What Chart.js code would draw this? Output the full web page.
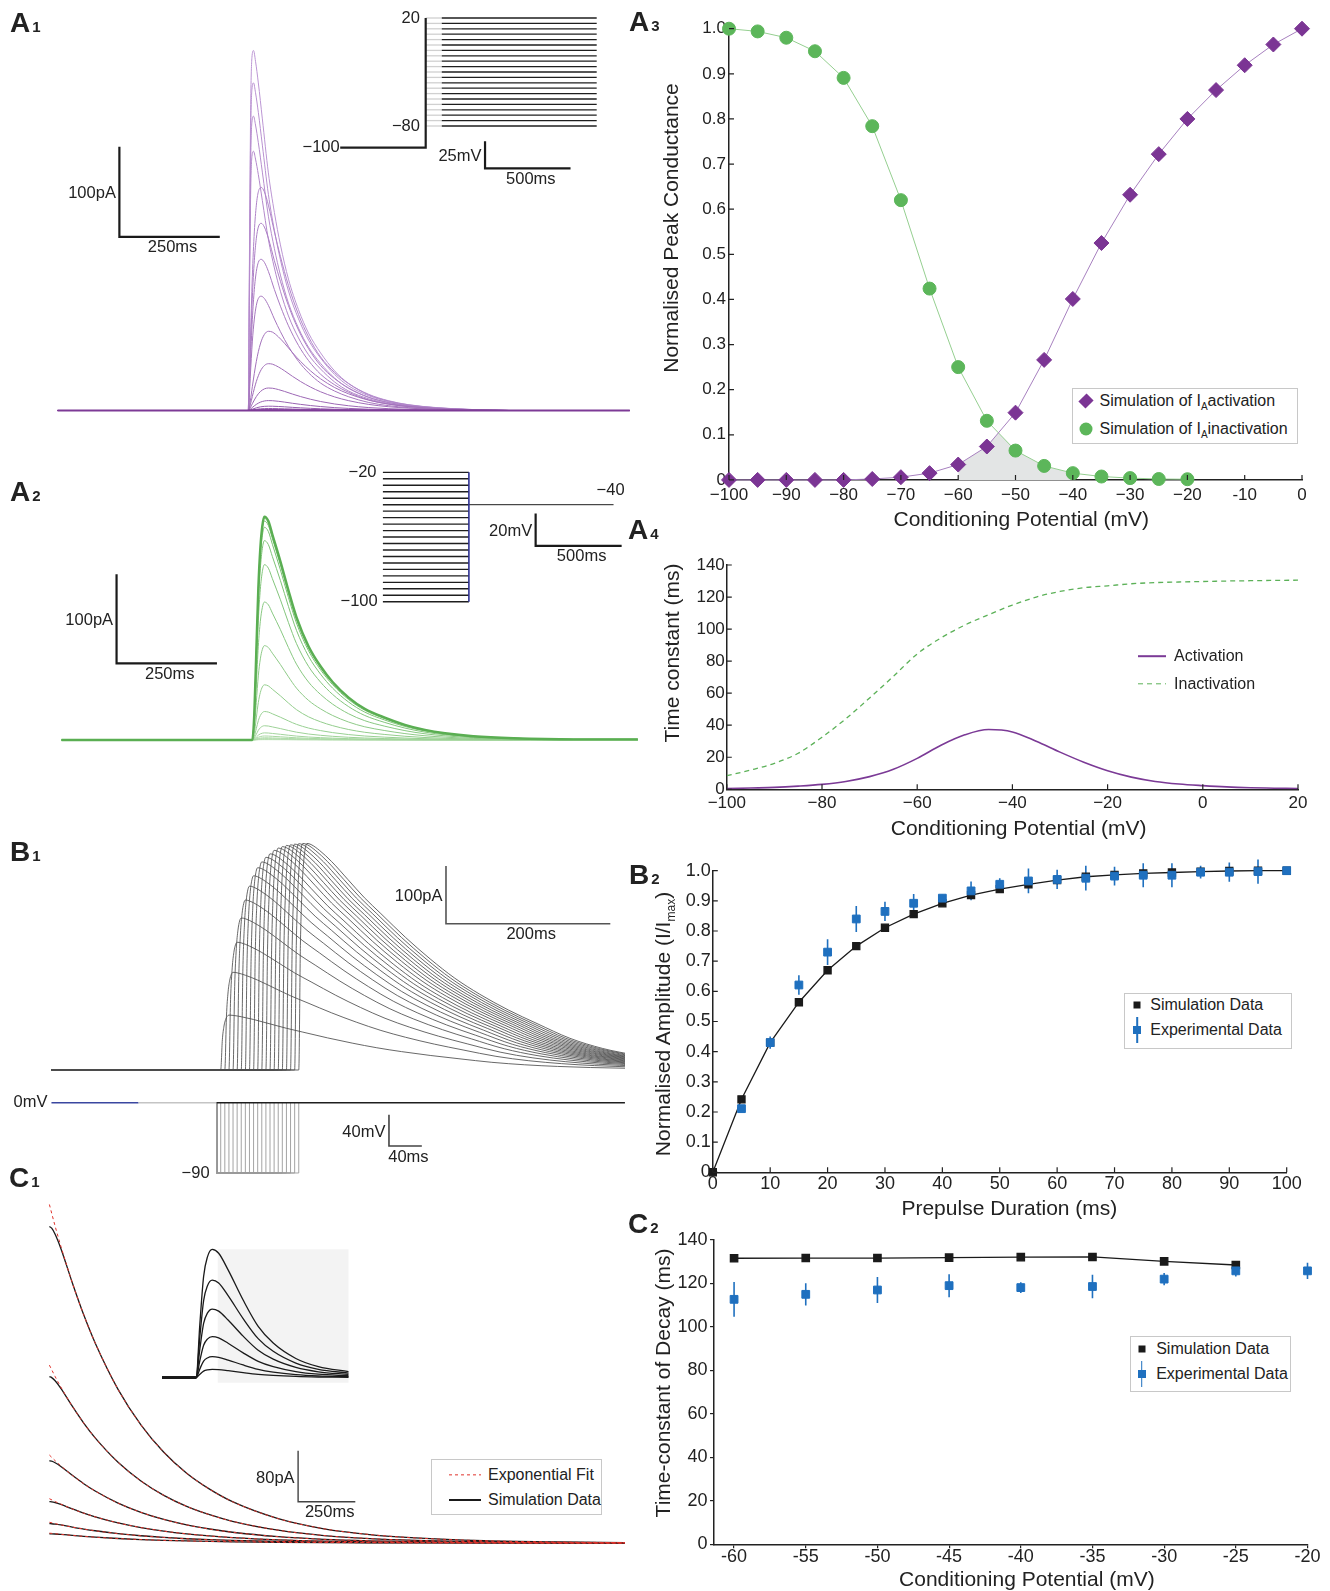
<!DOCTYPE html>
<html lang="en">
<head>
<meta charset="UTF-8">
<title>A-type K+ current: simulation vs experiment</title>
<script src="https://cdn.jsdelivr.net/npm/chart.js"></script>
<style>
  html, body { margin: 0; padding: 0; background: #fff; }
  #fig { position: relative; width: 1330px; height: 1591px; overflow: hidden;
         font-family: "Liberation Sans", Arial, sans-serif; color: #222; }
  #fig canvas { position: absolute; }
  .txt { position: absolute; white-space: nowrap; line-height: 1; }
  .legend { position: absolute; box-sizing: border-box; }
  .legend.boxed { border: 1.5px solid #c8c8c8; background: #fff; }
  .legend .item { position: absolute; white-space: nowrap; font-size: 16px; line-height: 1; transform: translateY(-50%); }
  .legend .mk { position: absolute; transform: translate(-50%, -50%); }
</style>
</head>
<body>
<div id="fig"></div>
<script>
// ---------- A1: activation protocol (mV) and peak currents (pA) ----------
const a1Steps = [-80, -75, -70, -65, -60, -55, -50, -45, -40, -35, -30, -25, -20, -15, -10, -5, 0, 5, 10, 15, 20];
const a1Peaks = [0, 0.05, 0.1, 0.2, 0.3, 0.5, 1, 2.2, 4.8, 11, 25, 52, 88, 127, 168, 208, 248, 288, 327, 364, 400];
const a1Hold = -100;
// normalised current shapes (ms after step onset)
const a1FastT = [0, 3, 6, 9, 13, 18, 25, 35, 50, 65, 80, 100, 125, 150, 180, 215, 250, 300, 350, 400, 470, 550, 650];
const a1FastV = [0, 0.45, 0.85, 0.98, 1, 0.97, 0.91, 0.81, 0.66, 0.55, 0.46, 0.365, 0.28, 0.215, 0.16, 0.11, 0.075, 0.045, 0.027, 0.016, 0.008, 0.003, 0];
const a1MidT = [0, 5, 10, 15, 20, 25, 32, 40, 50, 65, 80, 100, 125, 150, 180, 215, 250, 300, 350, 400, 470, 550, 650];
const a1MidV = [0, 0.3, 0.6, 0.8, 0.92, 0.98, 1, 0.98, 0.92, 0.8, 0.69, 0.56, 0.43, 0.33, 0.24, 0.17, 0.12, 0.07, 0.042, 0.025, 0.012, 0.005, 0];
const a1SlowT = [0, 5, 10, 20, 30, 40, 50, 60, 75, 90, 110, 130, 155, 180, 215, 250, 300, 350, 400, 470, 550, 650];
const a1SlowV = [0, 0.12, 0.3, 0.62, 0.84, 0.96, 1, 0.99, 0.93, 0.85, 0.73, 0.62, 0.5, 0.4, 0.29, 0.21, 0.13, 0.08, 0.05, 0.025, 0.011, 0];

// ---------- A2: inactivation protocol and currents ----------
const a2Levels = [-100, -96, -92, -88, -84, -80, -76, -72, -68, -64, -60, -56, -52, -48, -44, -40, -36, -32, -28, -24, -20];
const a2Test = -40;
const a2Peaks = [251, 249, 246, 239, 224, 197, 155, 106, 62, 32, 16, 8, 4.5, 2.5, 1.5, 0.8, 0.4];
const a2ShapeT = [0, 5, 10, 15, 20, 25, 30, 40, 50, 70, 90, 110, 140, 170, 200, 240, 280, 330, 380, 430, 480, 550, 650, 800];
const a2ShapeV = [0, 0.12, 0.4, 0.68, 0.86, 0.96, 1, 0.98, 0.92, 0.8, 0.67, 0.55, 0.42, 0.33, 0.26, 0.19, 0.14, 0.1, 0.068, 0.045, 0.03, 0.017, 0.008, 0.003];

// ---------- A3: normalised peak conductance ----------
const a3Volt = [-100, -95, -90, -85, -80, -75, -70, -65, -60, -55, -50, -45, -40, -35, -30, -25, -20, -15, -10, -5, 0];
const a3Act = [0, 0, 0, 0, 0, 0.002, 0.006, 0.015, 0.034, 0.074, 0.149, 0.266, 0.401, 0.525, 0.632, 0.722, 0.8, 0.864, 0.919, 0.965, 1];
const a3Inact = [1, 0.994, 0.98, 0.95, 0.891, 0.784, 0.62, 0.424, 0.25, 0.131, 0.065, 0.031, 0.015, 0.0075, 0.004, 0.002, 0.0015];

// ---------- A4: time constants (ms) ----------
const a4Volt = [-100, -95, -90, -85, -80, -75, -70, -65, -60, -55, -50, -45, -40, -35, -30, -25, -20, -15, -10, -5, 0, 5, 10, 15, 20];
const a4TauAct = [0.4, 0.8, 1.2, 2, 3.1, 4.9, 7.9, 12.5, 19.3, 27.5, 34, 37.3, 35.8, 30, 23.2, 16.9, 11.6, 7.6, 4.9, 3.3, 2.3, 1.5, 1, 0.7, 0.4];
const a4TauInact = [8.5, 12, 16.2, 22.5, 32.5, 44, 57, 70.5, 84.5, 94.5, 102.5, 109, 115, 120, 123.5, 125.8, 127, 128.3, 129, 129.4, 129.7, 130, 130.2, 130.4, 130.5];

// ---------- B1: recovery from inactivation ----------
const b1Durations = [5, 10, 15, 20, 25, 30, 35, 40, 45, 50, 55, 60, 65, 70, 75, 80, 85, 90, 95, 100];
const b1Peaks = [95, 169, 221, 263, 294, 318, 336, 350, 360, 368, 374, 380, 384, 386.5, 388.5, 389.6, 390.8, 391.6, 392, 392];
const b1Prepulse = -90;
const b1ShapeT = [0, 2, 4, 6, 8, 10, 15, 25, 40, 60, 80, 100, 130, 160, 190, 220, 255, 290, 330, 370, 410, 450, 500, 550, 600];
const b1ShapeV = [0, 0.55, 0.8, 0.92, 0.98, 1, 0.995, 0.97, 0.92, 0.84, 0.76, 0.69, 0.585, 0.49, 0.405, 0.335, 0.265, 0.205, 0.14, 0.095, 0.065, 0.045, 0.03, 0.02, 0.013];

// ---------- B2: normalised amplitude vs prepulse duration ----------
const b2Dur = [0, 5, 10, 15, 20, 25, 30, 35, 40, 45, 50, 55, 60, 65, 70, 75, 80, 85, 90, 95, 100];
const b2Sim = [0, 0.242, 0.43, 0.564, 0.67, 0.75, 0.811, 0.856, 0.892, 0.919, 0.939, 0.955, 0.969, 0.98, 0.986, 0.991, 0.994, 0.997, 0.999, 1, 1];
const b2ExpDur = [5, 10, 15, 20, 25, 30, 35, 40, 45, 50, 55, 60, 65, 70, 75, 80, 85, 90, 95, 100];
const b2Exp = [0.211, 0.43, 0.621, 0.73, 0.84, 0.865, 0.892, 0.909, 0.933, 0.955, 0.966, 0.971, 0.975, 0.982, 0.985, 0.985, 0.995, 0.995, 0.997, 1];
const b2ExpErr = [0.008, 0.02, 0.032, 0.043, 0.043, 0.032, 0.031, 0.011, 0.031, 0.02, 0.041, 0.032, 0.041, 0.031, 0.04, 0.04, 0.021, 0.032, 0.04, 0];

// ---------- C1: decay phases with exponential fits ----------
const c1FitAmp = [531, 279, 138, 69.5, 32.5, 15.5];
const c1FitT = [0, 25, 50, 100, 150, 200, 300, 400, 500, 600, 700, 800, 1000, 1200, 1400, 1600, 1900, 2200, 2515];
const c1FitV = [1, 0.936, 0.877, 0.769, 0.674, 0.591, 0.454, 0.349, 0.268, 0.206, 0.159, 0.122, 0.072, 0.042, 0.025, 0.015, 0.0067, 0.003, 0.001];
const c1SimT = [0, 10, 25, 50, 100, 150, 200, 300, 400, 500, 600, 700, 800, 1000, 1200, 1400, 1600, 1900, 2200, 2515];
const c1SimV = [0.935, 0.93, 0.912, 0.87, 0.769, 0.674, 0.591, 0.454, 0.349, 0.268, 0.206, 0.159, 0.122, 0.072, 0.042, 0.025, 0.015, 0.0067, 0.003, 0.001];
const c1InsetPeaks = [385, 293, 206, 123, 63, 25];
const c1InsetT = [0, 9.4, 18.8, 28.2, 40.4, 56.4, 80, 117.6, 155.2, 192.8, 249.3, 305.7, 381];
const c1InsetV = [0, 0.42, 0.79, 0.94, 1, 0.97, 0.84, 0.605, 0.4, 0.27, 0.15, 0.086, 0.047];
const c1FitWindow = [54, 381];

// ---------- C2: decay time constant ----------
const c2Volt = [-60, -55, -50, -45, -40, -35, -30, -25];
const c2Sim = [131.6, 131.7, 131.7, 131.9, 132.1, 132.2, 130.2, 128.5];
const c2ExpVolt = [-60, -55, -50, -45, -40, -35, -30, -25, -20];
const c2Exp = [112.7, 115, 117, 119, 118.1, 118.6, 122, 125.8, 125.8];
const c2ExpErr = [8, 5.1, 6, 5.3, 2.5, 5.4, 2.8, 2.6, 3.7];

// ================= helpers =================
Chart.defaults.font.family = '"Liberation Sans", Arial, sans-serif';
Chart.defaults.color = '#222';

const fig = document.getElementById('fig');
const BLUE = '#1f70bf';
const pts = (xs, ys) => xs.map((x, i) => ({ x, y: ys[i] }));

function mix(c1, c2, f) {
  return 'rgb(' + c1.map((c, i) => Math.round(c + (c2[i] - c) * f)).join(',') + ')';
}

// current trace: flat baseline from `from`, then shape scaled by amp starting at onset
function trace(ts, vs, amp, onset, from, to) {
  const out = from === null ? [] : [{ x: from, y: 0 }];
  for (let i = 0; i < ts.length; i++) {
    out.push({ x: onset + ts[i], y: amp * vs[i] });
    if (onset + ts[i] > to) break; // one point past the end of the record, clipped by the chart
  }
  const last = out[out.length - 1];
  if (last.x < to) out.push({ x: to, y: last.y });
  return out;
}

function makeCanvas(id, L, T, W, H) {
  const c = document.createElement('canvas');
  c.id = id; c.width = W; c.height = H;
  c.style.left = L + 'px'; c.style.top = T + 'px';
  c.style.width = W + 'px'; c.style.height = H + 'px';
  fig.appendChild(c);
  return c;
}

// scale bars, labels and shaded boxes drawn through the chart's scales
function decorations(cfg) {
  return {
    id: 'decorations',
    beforeDatasetsDraw(chart) {
      const { ctx, scales: { x, y } } = chart;
      (cfg.boxes || []).forEach(b => {
        const x0 = x.getPixelForValue(b.x0), x1 = x.getPixelForValue(b.x1);
        const y0 = y.getPixelForValue(b.y0), y1 = y.getPixelForValue(b.y1);
        ctx.save(); ctx.fillStyle = b.color; ctx.fillRect(x0, y1, x1 - x0, y0 - y1); ctx.restore();
      });
    },
    afterDatasetsDraw(chart) {
      const { ctx, scales: { x, y } } = chart;
      ctx.save();
      ctx.font = '16.5px "Liberation Sans", Arial, sans-serif';
      ctx.fillStyle = '#222';
      (cfg.bars || []).forEach(b => {
        const px = x.getPixelForValue(b.x), py = y.getPixelForValue(b.y);
        const top = y.getPixelForValue(b.y + b.dy), right = x.getPixelForValue(b.x + b.dx);
        ctx.strokeStyle = b.color || '#1a1a1a';
        ctx.lineWidth = b.width || 2;
        ctx.beginPath(); ctx.moveTo(px, top); ctx.lineTo(px, py); ctx.lineTo(right, py); ctx.stroke();
        ctx.textBaseline = 'middle';
        ctx.textAlign = 'right';
        ctx.fillText(b.yLabel, px - 3.5, (py + top) / 2 + 2);
        ctx.textAlign = 'center';
        ctx.fillText(b.xLabel, (px + right) / 2 + 3, py + 11);
      });
      (cfg.texts || []).forEach(t => {
        ctx.textAlign = t.align || 'right';
        ctx.textBaseline = 'middle';
        ctx.fillText(t.text, x.getPixelForValue(t.x) + (t.dx || 0), y.getPixelForValue(t.y) + (t.dy || 0));
      });
      ctx.restore();
    }
  };
}

function tracePanel(id, rect, origin, ppu, datasets, deco) {
  const [L, T, W, H] = rect;
  datasets.forEach(d => { if (d.clip === undefined) d.clip = 0; });
  return new Chart(makeCanvas(id, L, T, W, H), {
    type: 'line',
    data: { datasets },
    options: {
      responsive: false, animation: false, events: [],
      layout: { padding: 0 },
      elements: { point: { radius: 0 } },
      plugins: { legend: { display: false }, tooltip: { enabled: false } },
      scales: {
        x: { type: 'linear', display: false, min: (L - origin[0]) / ppu[0], max: (L + W - origin[0]) / ppu[0] },
        y: { type: 'linear', display: false, min: (origin[1] - T - H) / ppu[1], max: (origin[1] - T) / ppu[1] }
      }
    },
    plugins: [decorations(deco || {})]
  });
}

function innerTicks(len) {
  return {
    id: 'innerTicks',
    afterDraw(chart) {
      const { ctx, chartArea: a, scales: { x, y } } = chart;
      ctx.save();
      ctx.strokeStyle = '#222'; ctx.lineWidth = 1.2;
      ctx.beginPath();
      x.ticks.forEach(t => { const p = x.getPixelForValue(t.value); ctx.moveTo(p, a.bottom); ctx.lineTo(p, a.bottom - len); });
      y.ticks.forEach(t => { const p = y.getPixelForValue(t.value); ctx.moveTo(a.left, p); ctx.lineTo(a.left + len, p); });
      ctx.stroke();
      ctx.restore();
    }
  };
}

function errorBars(xs, ys, errs, color) {
  return {
    id: 'errorBars',
    beforeDatasetsDraw(chart) {
      const { ctx, scales: { x, y } } = chart;
      ctx.save();
      ctx.strokeStyle = color; ctx.lineWidth = 1.6;
      ctx.beginPath();
      xs.forEach((v, i) => {
        const p = x.getPixelForValue(v);
        ctx.moveTo(p, y.getPixelForValue(ys[i] + errs[i]));
        ctx.lineTo(p, y.getPixelForValue(ys[i] - errs[i]));
      });
      ctx.stroke();
      ctx.restore();
    }
  };
}

// chart with visible axes; area = [left, top, right, bottom] of the plot area in page px
function axisPanel(id, area, fit, scales, datasets, plugins) {
  const [l, t, r, b] = area;
  const L = Math.round(l - fit.yW - 5), T = Math.round(t - 15);
  const W = Math.round(r - L + fit.pr), H = Math.round(b - T + fit.xH + 4);
  scales.x.afterFit = s => { s.height = fit.xH; };
  scales.y.afterFit = s => { s.width = fit.yW; };
  return new Chart(makeCanvas(id, L, T, W, H), {
    type: 'line',
    data: { datasets },
    options: {
      responsive: false, animation: false, events: [],
      layout: { padding: { left: l - fit.yW - L, top: t - T, right: L + W - r, bottom: T + H - b - fit.xH } },
      plugins: { legend: { display: false }, tooltip: { enabled: false } },
      scales
    },
    plugins: plugins || []
  });
}

function linAxis(min, max, step, size, pad, cb, gridOpts) {
  const ticks = { stepSize: step, padding: pad, font: { size }, color: '#222', includeBounds: false };
  if (cb) ticks.callback = cb;
  return {
    type: 'linear', min, max, ticks,
    grid: gridOpts || { display: false, drawTicks: false },
    border: { display: true, color: '#222', width: 1.5 }
  };
}

function addText(html, x, y, o) {
  o = o || {};
  const d = document.createElement('div');
  d.className = 'txt';
  d.innerHTML = html;
  const tx = o.align === 'left' ? '0' : o.align === 'right' ? '-100%' : '-50%';
  d.style.left = x + 'px'; d.style.top = y + 'px';
  d.style.fontSize = (o.size || 21) + 'px';
  d.style.transform = 'translate(' + tx + ',-50%)' + (o.rotate ? ' rotate(-90deg)' : '');
  fig.appendChild(d);
}

function legend(box, rows) {
  const el = document.createElement('div');
  el.className = 'legend' + (box.boxed ? ' boxed' : '');
  el.style.cssText += `left:${box.x}px;top:${box.y}px;width:${box.w}px;height:${box.h}px`;
  rows.forEach(r => {
    r.marks.forEach(css => {
      const m = document.createElement('div');
      m.className = 'mk';
      m.style.cssText = `left:${r.mx}px;top:${r.y}px;` + css;
      el.appendChild(m);
    });
    const t = document.createElement('div');
    t.className = 'item';
    t.style.left = r.tx + 'px'; t.style.top = r.y + 'px';
    t.innerHTML = r.text;
    el.appendChild(t);
  });
  fig.appendChild(el);
}

const minus = v => v < 0 ? '\u2212' + (-v) : String(v);

// ================= A1 =================
const a1Sets = a1Peaks.map((pk, i) => {
  const tpl = pk >= 280 ? [a1FastT, a1FastV] : pk >= 120 ? [a1MidT, a1MidV] : [a1SlowT, a1SlowV];
  return {
    data: trace(tpl[0], tpl[1], pk, 0, -475, 950),
    borderColor: mix([125, 58, 150], [188, 150, 212], i / (a1Peaks.length - 1)),
    borderWidth: i === 0 ? 2 : 1,
    cubicInterpolationMode: 'monotone'
  };
});
tracePanel('a1', [40, 0, 600, 430], [248.3, 410.5], [0.4016, 0.9], a1Sets, {
  bars: [{ x: -321, y: 193, dx: 250, dy: 100, xLabel: '250ms', yLabel: '100pA', width: 2.2 }]
});

const a1Top = Math.max(...a1Steps);
const a1Protocol = a1Steps.map(v => ({
  data: [{ x: 0, y: v }, { x: 94, y: v }, { x: 1000, y: v }],
  borderColor: '#1e1e1e', borderWidth: 1.3, order: 1,
  segment: { borderColor: c => c.p0DataIndex === 0 ? '#d0d0d0' : '#1e1e1e' }
}));
a1Protocol.push({
  data: [{ x: -500, y: a1Hold }, { x: 0, y: a1Hold }, { x: 0, y: a1Top }],
  borderColor: '#1e1e1e', borderWidth: 2.2, order: 0
});
tracePanel('a1in', [285, 0, 330, 190], [425.7, 39.6], [0.171, 1.08], a1Protocol, {
  bars: [{ x: 347, y: -119.2, dx: 500, dy: 25, xLabel: '500ms', yLabel: '25mV', width: 2.2 }],
  texts: [
    { x: 0, y: a1Top, text: String(a1Top), dx: -5.8 },
    { x: 0, y: a1Steps[0], text: minus(a1Steps[0]), dx: -5.8 },
    { x: -500, y: a1Hold, text: minus(a1Hold), dx: -0.5 }
  ]
});

// ================= A2 =================
const a2Sets = a2Peaks.map((pk, i) => ({
  data: trace(a2ShapeT, a2ShapeV, pk, 0, -475, 960),
  borderColor: i === 0 ? '#5aae52' : mix([104, 184, 96], [190, 226, 184], i / (a2Peaks.length - 1)),
  borderWidth: i === 0 ? 2.4 : 1,
  cubicInterpolationMode: 'monotone'
}));
tracePanel('a2', [40, 455, 610, 300], [252.3, 740], [0.4016, 0.89], a2Sets, {
  bars: [{ x: -338, y: 86.2, dx: 250, dy: 100, xLabel: '250ms', yLabel: '100pA', width: 2.2 }]
});

const a2Protocol = a2Levels.map(v => ({
  data: [{ x: 0, y: v }, { x: 500, y: v }], borderColor: '#1e1e1e', borderWidth: 1.4, order: 2
}));
a2Protocol.push({
  data: [{ x: 500, y: a2Test }, { x: 1341, y: a2Test }], borderColor: '#1e1e1e', borderWidth: 1, order: 1
});
a2Protocol.push({
  data: [{ x: 500, y: Math.min(...a2Levels) }, { x: 500, y: Math.max(...a2Levels) }], borderColor: '#2e3192', borderWidth: 1.6, order: 0
});
tracePanel('a2in', [320, 455, 320, 165], [382.9, 440], [0.172, 1.6175], a2Protocol, {
  bars: [{ x: 888, y: -65.5, dx: 500, dy: 20, xLabel: '500ms', yLabel: '20mV', width: 2.2 }],
  texts: [
    { x: 0, y: Math.max(...a2Levels), text: minus(Math.max(...a2Levels)), dx: -6.4 },
    { x: 0, y: Math.min(...a2Levels), text: minus(Math.min(...a2Levels)), dx: -5.2 },
    { x: 1341, y: a2Test, text: minus(a2Test), dx: 11, dy: -14 }
  ]
});

// ================= A3 =================
const shadeFrom = -60, shadeTo = -40;
const overlapPts = [];
a3Volt.forEach((v, i) => {
  if (v < shadeFrom || v > shadeTo) return;
  overlapPts.push({ x: v, y: Math.min(a3Act[i], a3Inact[i]) });
  const j = i + 1;
  if (j < a3Inact.length && a3Volt[j] <= shadeTo) {
    const d0 = a3Act[i] - a3Inact[i], d1 = a3Act[j] - a3Inact[j];
    if (d0 * d1 < 0) {
      const f = d0 / (d0 - d1);
      overlapPts.push({ x: v + f * (a3Volt[j] - v), y: a3Act[i] + f * (a3Act[j] - a3Act[i]) });
    }
  }
});
axisPanel('a3', [729, 28.7, 1302, 479.9], { yW: 62, xH: 36, pr: 20 }, {
  x: linAxis(-100, 0, 10, 17, 5, v => v < -10 ? '\u2212' + (-v) : String(v)),
  y: linAxis(0, 1, 0.1, 17, 3, v => v === 0 ? '0' : v.toFixed(1))
}, [
  { data: overlapPts, fill: 'origin', backgroundColor: '#e3e5e5', borderWidth: 0, pointRadius: 0, order: 3 },
  { data: pts(a3Volt.slice(0, a3Inact.length), a3Inact), borderColor: '#95cf90', borderWidth: 1,
    pointStyle: 'circle', pointRadius: 6.5, pointBackgroundColor: '#5cb65a', pointBorderColor: '#5cb65a', order: 2, clip: false },
  { data: pts(a3Volt, a3Act), borderColor: '#a780bf', borderWidth: 1,
    pointStyle: 'rectRot', pointRadius: 7.5, pointBackgroundColor: '#7b3594', pointBorderColor: '#7b3594', order: 1, clip: false }
], [innerTicks(5)]);

// ================= A4 =================
axisPanel('a4', [726.8, 565, 1298, 789.3], { yW: 62, xH: 34, pr: 22 }, {
  x: linAxis(-100, 20, 20, 17, 4, minus),
  y: linAxis(0, 140, 20, 17, 2)
}, [
  { data: pts(a4Volt, a4TauAct), borderColor: '#7b3a96', borderWidth: 1.6, pointRadius: 0, cubicInterpolationMode: 'monotone' },
  { data: pts(a4Volt, a4TauInact), borderColor: '#5cb158', borderWidth: 1.3, borderDash: [5, 4], pointRadius: 0, cubicInterpolationMode: 'monotone' }
], [innerTicks(5)]);

// ================= B1 =================
const b1Sets = b1Durations.map((d, i) => ({
  data: trace(b1ShapeT, b1ShapeV, b1Peaks[i], d, -201, 497),
  borderColor: '#4d4d4d', borderWidth: 0.85, cubicInterpolationMode: 'monotone'
}));
tracePanel('b1', [40, 815, 585, 262], [216.6, 1070], [0.8216, 0.578], b1Sets, {
  bars: [{ x: 279.2, y: 253, dx: 200, dy: 100, xLabel: '200ms', yLabel: '100pA', width: 1.6, color: '#555' }]
});

const b1Volt = b1Durations.map(d => ({
  data: [{ x: 0, y: 0 }, { x: 0, y: b1Prepulse }, { x: d, y: b1Prepulse }, { x: d, y: 0 }],
  borderColor: '#9a9a9a', borderWidth: 0.9, order: 1
}));
b1Volt.push({
  data: [{ x: -201, y: 0 }, { x: -95, y: 0 }, { x: 0, y: 0 }, { x: 497, y: 0 }],
  borderWidth: 1.6, order: 0,
  segment: { borderColor: c => ['#3a47a0', '#c4c4c4', '#1e1e1e'][c.p0DataIndex] }
});
tracePanel('b1v', [0, 1082, 640, 100], [216.6, 1102.7], [0.8216, 0.781], b1Volt, {
  bars: [{ x: 209.8, y: -55.4, dx: 40, dy: 40, xLabel: '40ms', yLabel: '40mV', width: 1.6, color: '#444' }],
  texts: [
    { x: -201, y: 0, text: '0mV', dx: -4 },
    { x: 0, y: b1Prepulse, text: minus(b1Prepulse), dx: -7 }
  ]
});

// ================= B2 =================
axisPanel('b2', [712.8, 870.7, 1286.7, 1172.3], { yW: 58, xH: 30, pr: 24 }, {
  x: linAxis(0, 100, 10, 18, 1),
  y: linAxis(0, 1, 0.1, 18, 2, v => v === 0 ? '0' : v.toFixed(1))
}, [
  { data: pts(b2ExpDur, b2Exp), showLine: false, pointStyle: 'rect', pointRadius: 5.5,
    pointBackgroundColor: BLUE, pointBorderColor: BLUE, borderColor: BLUE, order: 1, clip: false },
  { data: pts(b2Dur, b2Sim), borderColor: '#1a1a1a', borderWidth: 1.3, pointStyle: 'rect', pointRadius: 5,
    pointBackgroundColor: '#1a1a1a', pointBorderColor: '#1a1a1a', order: 2, clip: false }
], [innerTicks(5), errorBars(b2ExpDur, b2Exp, b2ExpErr, BLUE)]);

// ================= C1 =================
const c1Sets = [];
c1FitAmp.forEach(a => {
  c1Sets.push({ data: trace(c1SimT, c1SimV, a, 0, null, 2515), borderColor: '#1a1a1a', borderWidth: 1.3, cubicInterpolationMode: 'monotone', order: 1 });
  c1Sets.push({ data: trace(c1FitT, c1FitV, a, 0, null, 2515), borderColor: '#e0322b', borderWidth: 1, borderDash: [3, 3], cubicInterpolationMode: 'monotone', order: 0 });
});
tracePanel('c1', [40, 1185, 600, 400], [49.4, 1543], [0.2288, 0.6375], c1Sets, {
  bars: [{ x: 1087, y: 64.8, dx: 250, dy: 80, xLabel: '250ms', yLabel: '80pA', width: 1.4, color: '#444' }]
});

const c1Inset = c1InsetPeaks.map(p => ({
  data: trace(c1InsetT, c1InsetV, p, 0, -85, 381),
  borderColor: '#1a1a1a', borderWidth: 1.3, cubicInterpolationMode: 'monotone',
  segment: { borderWidth: c => c.p0DataIndex === 0 ? 2.4 : 1.3 }
}));
tracePanel('c1in', [150, 1235, 210, 155], [196.1, 1377.7], [0.4, 0.3333], c1Inset, {
  boxes: [{ x0: c1FitWindow[0], x1: c1FitWindow[1], y0: -15, y1: Math.max(...c1InsetPeaks), color: '#f3f3f3' }]
});

// ================= C2 =================
const outTicks = { display: true, drawOnChartArea: false, drawTicks: true, tickLength: 4, color: '#222', lineWidth: 1.2 };
axisPanel('c2', [714, 1240, 1307.5, 1544.3], { yW: 62, xH: 30, pr: 22 }, {
  x: linAxis(-61.4, -20, 5, 18, -2.4, null, outTicks),
  y: linAxis(0, 140, 20, 18, 2.5, null, outTicks)
}, [
  { data: pts(c2ExpVolt, c2Exp), showLine: false, pointStyle: 'rect', pointRadius: 5.5,
    pointBackgroundColor: BLUE, pointBorderColor: BLUE, borderColor: BLUE, order: 1, clip: false },
  { data: pts(c2Volt, c2Sim), borderColor: '#1a1a1a', borderWidth: 1.3, pointStyle: 'rect', pointRadius: 5.2,
    pointBackgroundColor: '#1a1a1a', pointBorderColor: '#1a1a1a', order: 2, clip: false }
], [errorBars(c2ExpVolt, c2Exp, c2ExpErr, BLUE)]);

// ================= text: panel labels and axis titles =================
[['A', '1', 10, 23.3], ['A', '2', 10, 491.7], ['A', '3', 629, 21.5], ['A', '4', 628, 530],
 ['B', '1', 10, 851.7], ['B', '2', 629, 874.5], ['C', '1', 9, 1178], ['C', '2', 628, 1223.8]
].forEach(([l, n, x, y]) => addText(`<b style="font-size:28px">${l}</b><b style="font-size:15px;margin-left:2px">${n}</b>`, x, y, { align: 'left' }));

addText('Conditioning Potential (mV)', 1021.3, 518.4);
addText('Normalised Peak Conductance', 669.8, 228.2, { rotate: true });
addText('Conditioning Potential (mV)', 1018.6, 826.7);
addText('Time constant (ms)', 670.7, 652.5, { rotate: true });
addText('Prepulse Duration (ms)', 1009.4, 1207.3);
addText('Normalised Amplitude (I/I<span style="font-size:12px;position:relative;top:5px">max</span>)', 661.7, 1024, { rotate: true });
addText('Conditioning Potential (mV)', 1026.9, 1578.3);
addText('Time-constant of Decay (ms)', 661.7, 1382.5, { rotate: true });

// ================= legends =================
const subA = '<span style="font-size:10px;position:relative;top:4px">A</span>';
legend({ x: 1072, y: 388, w: 226, h: 56, boxed: true }, [
  { mx: 13, y: 12, tx: 26.5, text: 'Simulation of I' + subA + 'activation',
    marks: ['width:10px;height:10px;background:#7b3594;transform:translate(-50%,-50%) rotate(45deg) scaleY(1.15)'] },
  { mx: 13, y: 40, tx: 26.5, text: 'Simulation of I' + subA + 'inactivation',
    marks: ['width:13px;height:13px;border-radius:50%;background:#5cb65a'] }
]);
legend({ x: 1137.6, y: 642, w: 150, h: 56 }, [
  { mx: 14.1, y: 14, tx: 36.5, text: 'Activation', marks: ['width:28px;height:1.6px;background:#7b3a96'] },
  { mx: 14.1, y: 42, tx: 36.5, text: 'Inactivation',
    marks: ['width:28px;height:1.4px;background:repeating-linear-gradient(90deg,#5cb158 0 5px,transparent 5px 9px)'] }
]);
const errMarks = ['width:1.6px;height:26px;background:' + BLUE, 'width:8px;height:8px;background:' + BLUE];
legend({ x: 1124, y: 992.7, w: 167.6, h: 56.6, boxed: true }, [
  { mx: 12.2, y: 11.5, tx: 25.3, text: 'Simulation Data', marks: ['width:7px;height:7px;background:#1a1a1a'] },
  { mx: 12.2, y: 36.8, tx: 25.3, text: 'Experimental Data', marks: errMarks }
]);
legend({ x: 1129.5, y: 1335.7, w: 161.7, h: 56.6, boxed: true }, [
  { mx: 11.2, y: 12.8, tx: 25.7, text: 'Simulation Data', marks: ['width:7px;height:7px;background:#1a1a1a'] },
  { mx: 11.2, y: 37.8, tx: 25.7, text: 'Experimental Data', marks: errMarks }
]);
legend({ x: 431.3, y: 1459, w: 171.2, h: 56, boxed: true }, [
  { mx: 33.2, y: 14.5, tx: 55.7, text: 'Exponential Fit',
    marks: ['width:32px;height:1.3px;background:repeating-linear-gradient(90deg,#e0322b 0 3px,transparent 3px 6px)'] },
  { mx: 33.2, y: 39.5, tx: 55.7, text: 'Simulation Data', marks: ['width:32px;height:2px;background:#1a1a1a'] }
]);
</script>
</body>
</html>
